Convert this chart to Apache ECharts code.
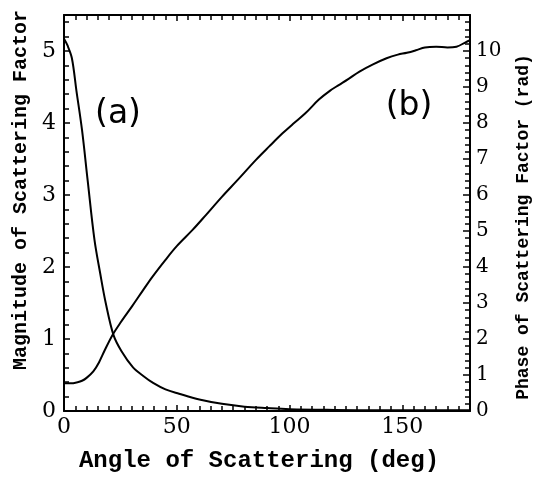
<!DOCTYPE html>
<html>
<head>
<meta charset="utf-8">
<script src="https://cdn.jsdelivr.net/npm/echarts@6/dist/echarts.min.js"></script>
<style>
html,body{margin:0;padding:0;background:#fff;}
#chart{width:535px;height:477px;}
</style>
</head>
<body>
<div id="chart"></div>
<script>
// Curve (a): magnitude of scattering factor (left axis)
const angleA = [0, 1.5, 3.5, 5.5, 8, 10.5, 13.5, 16, 18.5, 22, 25.5, 30.5, 35, 39.5, 45, 51, 60, 70, 80, 90, 100, 120, 140, 160, 180];
const magA   = [5.17, 5.08, 4.9, 4.45, 3.9, 3.2, 2.38, 1.92, 1.5, 1.05, 0.83, 0.61, 0.49, 0.39, 0.3, 0.24, 0.16, 0.1, 0.06, 0.04, 0.025, 0.015, 0.01, 0.01, 0.01];

// Curve (b): phase of scattering factor (right axis, rad)
const angleB = [0, 3, 6, 8, 10, 13, 15.5, 18, 21.4, 25, 30.3, 35, 39.1, 45, 50, 57, 63, 70, 77, 85, 91, 97, 102, 107, 113, 118, 122, 126, 131, 137, 143, 148, 152, 156, 160, 165, 170, 174, 178, 180];
const phaseB = [0.77, 0.77, 0.8, 0.84, 0.92, 1.1, 1.35, 1.68, 2.1, 2.45, 2.92, 3.35, 3.72, 4.2, 4.58, 5.03, 5.45, 5.95, 6.42, 6.97, 7.35, 7.72, 8.0, 8.27, 8.65, 8.9, 9.06, 9.22, 9.43, 9.63, 9.8, 9.9, 9.95, 10.02, 10.1, 10.12, 10.1, 10.12, 10.24, 10.3];

// Tick labels
const xTicks = [0, 50, 100, 150];
const leftTicks = [0, 1, 2, 3, 4, 5];
const rightTicks = [0, 1, 2, 3, 4, 5, 6, 7, 8, 9, 10];

const xTitle = 'Angle of Scattering (deg)';
const leftTitle = 'Magnitude of Scattering Factor';
const rightTitle = 'Phase of Scattering Factor (rad)';
const labelA = '(a)';
const labelB = '(b)';

const chart = echarts.init(document.getElementById('chart'), null, {renderer: 'canvas'});
const lineStyleAxis = {color: '#000', width: 2};
const tickStyle = {color: '#000', width: 1.5};
const tickFont = {color: '#000', fontFamily: 'DejaVu Serif', fontSize: 22};
const titleFont = {color: '#000', fontFamily: 'Liberation Mono', fontWeight: 'bold'};

chart.setOption({
  animation: false,
  backgroundColor: '#fff',
  grid: {left: 64, right: 65, top: 15, bottom: 66, containLabel: false, outerBoundsMode: 'none'},
  xAxis: [
    {
      type: 'value', position: 'bottom', min: 0, max: 180, interval: 50,
      name: xTitle, nameLocation: 'middle', nameGap: 38,
      nameTextStyle: Object.assign({fontSize: 24, padding: [0, 16, 0, 0]}, titleFont),
      axisLine: {show: true, onZero: false, lineStyle: lineStyleAxis},
      axisTick: {show: true, inside: true, length: 6, lineStyle: tickStyle},
      minorTick: {show: true, splitNumber: 10, length: 5, lineStyle: tickStyle},
      axisLabel: Object.assign({margin: 5, showMaxLabel: false,
        formatter: v => xTicks.indexOf(v) >= 0 ? String(v) : ''}, tickFont),
      splitLine: {show: false}
    },
    {
      type: 'value', position: 'top', min: 0, max: 180, interval: 50,
      axisLine: {show: true, onZero: false, lineStyle: lineStyleAxis},
      axisTick: {show: true, inside: true, length: 6, lineStyle: tickStyle},
      minorTick: {show: true, splitNumber: 10, length: 5, lineStyle: tickStyle},
      axisLabel: {show: false},
      splitLine: {show: false}
    }
  ],
  yAxis: [
    {
      type: 'value', position: 'left', min: 0, max: 5.5, interval: 1,
      name: leftTitle, nameLocation: 'middle', nameGap: 31,
      nameTextStyle: Object.assign({fontSize: 20, padding: [0, 0, 0, 46]}, titleFont),
      axisLine: {show: true, onZero: false, lineStyle: lineStyleAxis},
      axisTick: {show: true, inside: true, length: 6, lineStyle: tickStyle},
      minorTick: {show: true, splitNumber: 5, length: 5, lineStyle: tickStyle},
      axisLabel: Object.assign({margin: 8, showMaxLabel: false,
        formatter: v => leftTicks.indexOf(v) >= 0 ? String(v) : ''}, tickFont),
      splitLine: {show: false}
    },
    {
      type: 'value', position: 'right', min: 0, max: 11, interval: 1,
      name: rightTitle, nameLocation: 'middle', nameGap: 44,
      nameTextStyle: Object.assign({fontSize: 18, padding: [0, 28, 0, 0]}, titleFont),
      axisLine: {show: true, onZero: false, lineStyle: lineStyleAxis},
      axisTick: {show: true, inside: true, length: 7, lineStyle: tickStyle},
      minorTick: {show: true, splitNumber: 5, length: 5, lineStyle: tickStyle},
      axisLabel: Object.assign({margin: 6, showMaxLabel: false,
        formatter: v => rightTicks.indexOf(v) >= 0 ? String(v) : ''}, tickFont, {fontSize: 20}),
      splitLine: {show: false}
    }
  ],
  graphic: [
    {type: 'text', x: 118, y: 114, style: {text: labelA, align: 'center', verticalAlign: 'middle', fontFamily: 'DejaVu Sans', fontSize: 33, fill: '#000'}},
    {type: 'text', x: 409, y: 106, style: {text: labelB, align: 'center', verticalAlign: 'middle', fontFamily: 'DejaVu Sans', fontSize: 33, fill: '#000'}}
  ],
  series: [
    {
      type: 'line', name: 'magnitude', xAxisIndex: 0, yAxisIndex: 0,
      data: angleA.map((a, i) => [a, magA[i]]),
      showSymbol: false, smooth: 0.35,
      lineStyle: {color: '#000', width: 2}
    },
    {
      type: 'line', name: 'phase', xAxisIndex: 0, yAxisIndex: 1,
      data: angleB.map((a, i) => [a, phaseB[i]]),
      showSymbol: false, smooth: 0.35,
      lineStyle: {color: '#000', width: 2}
    }
  ]
});
</script>
</body>
</html>
